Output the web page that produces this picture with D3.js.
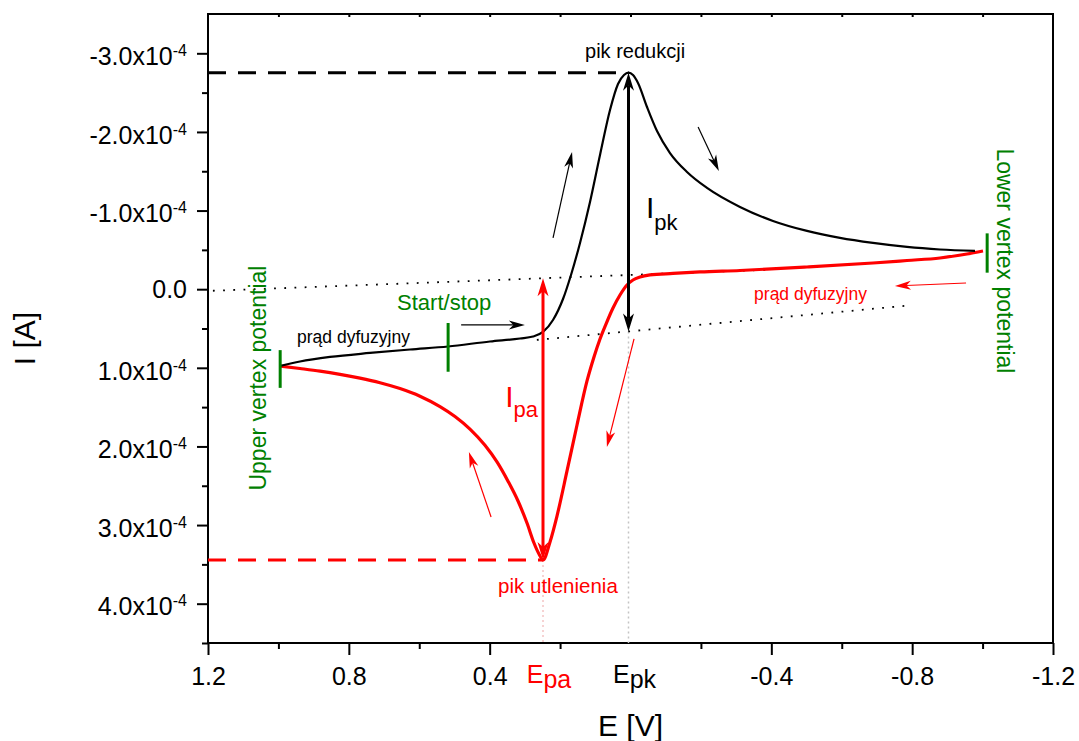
<!DOCTYPE html>
<html><head><meta charset="utf-8">
<script src="https://cdn.jsdelivr.net/npm/d3@7"></script>
<style>
body{margin:0;background:#fff}
svg{display:block}
text{font-family:"Liberation Sans", Arial, Helvetica, sans-serif}
</style>
</head><body>
<svg id="c" width="1079" height="741"></svg>
<script>
// ---------------- DATA ----------------
// Forward scan (black): potential E [V] and current I [x1e-4 A]
const forwardE = [0.9955,0.9387,0.8535,0.7399,0.6263,0.5183,0.3991,0.3138,0.2769,0.2485,0.2201,0.1917,0.1690,0.1434,0.1150,0.0866,0.0582,0.0355,0.0185,0.0057,-0.0071,-0.0213,-0.0469,-0.0753,-0.1122,-0.1605,-0.2173,-0.3110,-0.4047,-0.5013,-0.5950,-0.6887,-0.7853,-0.8791,-0.9785];
const forwardI = [0.977,0.920,0.862,0.811,0.767,0.729,0.665,0.627,0.602,0.544,0.392,0.125,-0.181,-0.588,-1.109,-1.707,-2.279,-2.610,-2.724,-2.754,-2.724,-2.623,-2.317,-2.012,-1.732,-1.491,-1.288,-1.046,-0.868,-0.741,-0.652,-0.588,-0.537,-0.505,-0.486];
// Reverse scan (red)
const reverseE = [-1.0012,-0.9557,-0.8791,-0.7853,-0.6887,-0.5013,-0.3110,-0.1974,-0.1207,-0.0554,-0.0270,-0.0071,0.0099,0.0298,0.0497,0.0696,0.0866,0.1037,0.1235,0.1519,0.1803,0.2088,0.2286,0.2485,0.2599,0.2741,0.2940,0.3195,0.3479,0.3792,0.4133,0.4559,0.4985,0.5411,0.5979,0.6547,0.7115,0.7683,0.8251,0.8819,0.9387,0.9955];
const reverseI = [-0.486,-0.448,-0.397,-0.365,-0.333,-0.282,-0.238,-0.219,-0.200,-0.181,-0.155,-0.117,-0.053,0.074,0.239,0.443,0.633,0.862,1.167,1.727,2.312,2.885,3.215,3.444,3.368,3.228,2.974,2.694,2.442,2.197,1.985,1.779,1.619,1.493,1.361,1.264,1.190,1.132,1.084,1.043,1.009,0.977];

// Peaks: [reduction (pk), oxidation (pa)]
const peakNames = ["pk","pa"];
const peakE = [0.0057, 0.2485];
const peakI = [-2.754, 3.444];
// Baselines (dotted): two end points each
const baseUpperE = [1.186, -0.405];
const baseUpperI = [0.02, -0.25];
const baseLowerE = [0.266, -0.784];
const baseLowerI = [0.645, 0.21];
// Vertex / start markers
const markerNames = ["Upper vertex","Start/stop","Lower vertex"];
const markerE = [0.995, 0.518, -1.013];
const markerI0 = [0.775, 0.43, -0.71];
const markerI1 = [1.255, 1.05, -0.21];
// Direction arrows [E1, I1, E2, I2]
const dirArrowsBlack = [[0.481,0.455,0.300,0.455],[0.220,-0.652,0.166,-1.745],[-0.192,-2.063,-0.251,-1.503]];
const dirArrowsRed = [[-0.953,-0.079,-0.751,-0.041],[-0.010,0.633,0.067,2.007],[0.396,2.897,0.459,2.070]];

// Axes
const xMajorTicks = [1.2, 0.8, 0.4, -0.4, -0.8, -1.2];
const xTickLabels = ["1.2","0.8","0.4","-0.4","-0.8","-1.2"];
const xMinorTicks = [1.0, 0.6, 0.2, -0.2, -0.6, -1.0];
const xTopTicks = [1.0,0.8,0.6,0.4,0.2,0.0,-0.2,-0.4,-0.6,-0.8,-1.0];
const yMajorTicks = [-3,-2,-1,0,1,2,3,4];
const yTickMantissa = ["-3.0x10","-2.0x10","-1.0x10","0.0","1.0x10","2.0x10","3.0x10","4.0x10"];
const yTickExponent = ["-4","-4","-4","","-4","-4","-4","-4"];
const yMinorTicks = [-2.5,-1.5,-0.5,0.5,1.5,2.5,3.5,4.5];

const RED = "#ff0000", GREEN = "#008000";

// ---------------- SCALES ----------------
const svg = d3.select("#c");
const x = d3.scaleLinear().domain([1.2,-1.2]).range([208,1053]);
const y = d3.scaleLinear().domain([-3.5,4.5]).range([14,643]);
const [X0,X1] = x.range(), [Y0,Y1] = y.range();

// ---------------- AXES ----------------
function styleAxis(g){ g.select(".domain").remove(); g.selectAll("line").attr("stroke","#000").attr("stroke-width",2);
  g.selectAll("text").attr("font-size",25).attr("fill","#000").attr("font-family","Liberation Sans, Arial, sans-serif"); }

svg.append("g").attr("transform",`translate(0,${Y1})`)
  .call(d3.axisBottom(x).tickValues(xMajorTicks).tickSize(12).tickSizeOuter(0).tickPadding(12).tickFormat((d,i)=>xTickLabels[i]))
  .call(styleAxis);
svg.append("g").attr("transform",`translate(0,${Y1})`)
  .call(d3.axisBottom(x).tickValues(xMinorTicks).tickSize(6).tickSizeOuter(0).tickFormat(""))
  .call(styleAxis);
svg.append("g").attr("transform",`translate(0,${Y0})`)
  .call(d3.axisBottom(x).tickValues(xTopTicks).tickSize(3).tickSizeOuter(0).tickFormat(""))
  .call(styleAxis);

const gy = svg.append("g").attr("transform",`translate(${X0},0)`)
  .call(d3.axisLeft(y).tickValues(yMajorTicks).tickSize(11).tickSizeOuter(0).tickPadding(10).tickFormat(""))
  .call(styleAxis);
gy.selectAll(".tick").each(function(d,i){
  const t = d3.select(this).select("text");
  t.attr("dy", yTickExponent[i] ? "0.45em" : "0.34em").text(null);
  t.append("tspan").text(yTickMantissa[i]);
  if (yTickExponent[i]) t.append("tspan").attr("font-size",16).attr("dy",-9).text(yTickExponent[i]);
});
svg.append("g").attr("transform",`translate(${X0},0)`)
  .call(d3.axisLeft(y).tickValues(yMinorTicks).tickSize(6).tickSizeOuter(0).tickFormat(""))
  .call(styleAxis);

// frame
svg.append("rect").attr("x",X0).attr("y",Y0).attr("width",X1-X0).attr("height",Y1-Y0)
  .attr("fill","none").attr("stroke","#000").attr("stroke-width",2);

// axis titles
svg.append("text").attr("transform",`translate(35,${(Y0+Y1)/2+10}) rotate(-90)`).attr("text-anchor","middle")
  .attr("font-size",30).text("I [A]");
svg.append("text").attr("x",(X0+X1)/2).attr("y",736).attr("text-anchor","middle").attr("font-size",30).text("E [V]");

// Epa / Epk tick labels
const peakColors = ["#000", RED];
peakE.forEach((e,i)=>{
  const t = svg.append("text").attr("x",x(e)+6).attr("y",683).attr("text-anchor","middle").attr("font-size",25).attr("fill",peakColors[i]);
  t.append("tspan").text("E");
  t.append("tspan").attr("dy",5).text(peakNames[i]);
});

// ---------------- GUIDES ----------------
const plot = svg.append("g");
const lowerAt = e => baseLowerI[0]+(e-baseLowerE[0])*(baseLowerI[1]-baseLowerI[0])/(baseLowerE[1]-baseLowerE[0]);
const upperAt = e => baseUpperI[0]+(e-baseUpperE[0])*(baseUpperI[1]-baseUpperI[0])/(baseUpperE[1]-baseUpperE[0]);
// vertical light dotted guides from peak arrows down to axis
plot.append("line").attr("x1",x(peakE[0])).attr("x2",x(peakE[0])).attr("y1",y(lowerAt(peakE[0]))).attr("y2",Y1)
  .attr("stroke","#c4c4c4").attr("stroke-width",1.5).attr("stroke-dasharray","2,3");
plot.append("line").attr("x1",x(peakE[1])).attr("x2",x(peakE[1])).attr("y1",y(peakI[1])).attr("y2",Y1)
  .attr("stroke","#f3c4c4").attr("stroke-width",1.5).attr("stroke-dasharray","2,3");

// dotted baselines
[[baseUpperE,baseUpperI],[baseLowerE,baseLowerI]].forEach(([es,is])=>{
  plot.append("line").attr("x1",x(es[0])).attr("y1",y(is[0])).attr("x2",x(es[1])).attr("y2",y(is[1]))
    .attr("stroke","#000").attr("stroke-width",1.8).attr("stroke-dasharray","1.8,8.4");
});

// dashed peak-level lines
plot.append("line").attr("x1",X0).attr("x2",x(peakE[0])).attr("y1",y(peakI[0])).attr("y2",y(peakI[0]))
  .attr("stroke","#000").attr("stroke-width",3).attr("stroke-dasharray","18,12");
plot.append("line").attr("x1",X0).attr("x2",x(peakE[1])).attr("y1",y(peakI[1])).attr("y2",y(peakI[1]))
  .attr("stroke",RED).attr("stroke-width",3).attr("stroke-dasharray","18,12");

// ---------------- CURVES ----------------
const line = d3.line().x(d=>x(d[0])).y(d=>y(d[1])).curve(d3.curveMonotoneX);
// order points by increasing screen x for the monotone curve
const redPts = reverseE.map((e,i)=>[e,reverseI[i]]).reverse();
const blackPts = forwardE.map((e,i)=>[e,forwardI[i]]);
plot.append("path").attr("d",line(redPts))
  .attr("fill","none").attr("stroke",RED).attr("stroke-width",3.2).attr("stroke-linejoin","round");
plot.append("path").attr("d",line(blackPts))
  .attr("fill","none").attr("stroke","#000").attr("stroke-width",2.2).attr("stroke-linejoin","round");

// ---------------- ARROWS ----------------
function head(g, px, py, ang, L, W, color){
  const p = [[0,0],[-L,-W/2],[-0.72*L,0],[-L,W/2]].map(([a,b])=>[px + a*Math.cos(ang) - b*Math.sin(ang), py + a*Math.sin(ang) + b*Math.cos(ang)]);
  g.append("path").attr("d","M"+p.map(q=>q.join(",")).join("L")+"Z").attr("fill",color).attr("stroke","none");
}
function arrow(E1,I1,E2,I2,color,w,L,W,both){
  const x1=x(E1), y1=y(I1), x2=x(E2), y2=y(I2);
  const ang = Math.atan2(y2-y1,x2-x1), back = 0.7*L;
  const sx = both ? x1 + back*Math.cos(ang) : x1, sy = both ? y1 + back*Math.sin(ang) : y1;
  plot.append("line").attr("x1",sx).attr("y1",sy).attr("x2",x2-back*Math.cos(ang)).attr("y2",y2-back*Math.sin(ang))
    .attr("stroke",color).attr("stroke-width",w);
  head(plot,x2,y2,ang,L,W,color);
  if (both) head(plot,x1,y1,ang+Math.PI,L,W,color);
}
// Ipk arrow: peak down to lower baseline
arrow(peakE[0],peakI[0],peakE[0],lowerAt(peakE[0]),"#000",3,18,11,true);
// Ipa arrow: upper baseline down to peak
arrow(peakE[1],upperAt(peakE[1]),peakE[1],peakI[1],RED,3,18,11,true);
dirArrowsBlack.forEach(a=>arrow(a[0],a[1],a[2],a[3],"#000",1.2,16,9,false));
dirArrowsRed.forEach(a=>arrow(a[0],a[1],a[2],a[3],RED,1.2,16,9,false));

// vertex / start markers
markerE.forEach((e,i)=>{
  plot.append("line").attr("x1",x(e)).attr("x2",x(e)).attr("y1",y(markerI0[i])).attr("y2",y(markerI1[i]))
    .attr("stroke",GREEN).attr("stroke-width",3);
});

// ---------------- LABELS ----------------
function label(txt,E,I,size,color,anchor){
  return plot.append("text").attr("x",x(E)).attr("y",y(I)).attr("font-size",size).attr("fill",color)
    .attr("text-anchor",anchor||"start").text(txt);
}
label("pik redukcji",-0.013,-2.94,20,"#000","middle");
label("prąd dyfuzyjny",0.947,0.684,17.5,"#000");
label("Start/stop",0.663,0.26,22,GREEN);
label("prąd dyfuzyjny",-0.351,0.137,17.5,RED);
label("pik utlenienia",0.376,3.86,20.5,RED);
// I_pk, I_pa
const ipk = plot.append("text").attr("x",x(-0.044)).attr("y",y(-0.907)).attr("font-size",30).attr("fill","#000");
ipk.append("tspan").text("I"); ipk.append("tspan").attr("font-size",22).attr("dy",12).text("pk");
const ipa = plot.append("text").attr("x",x(0.356)).attr("y",y(1.497)).attr("font-size",30).attr("fill",RED);
ipa.append("tspan").text("I"); ipa.append("tspan").attr("font-size",22).attr("dy",10).text("pa");
// rotated vertex labels
plot.append("text").attr("transform",`translate(266,${y(1.13)}) rotate(-90)`).attr("text-anchor","middle")
  .attr("font-size",23).attr("fill",GREEN).text("Upper vertex potential");
plot.append("text").attr("transform",`translate(997,${y(-0.36)}) rotate(90)`).attr("text-anchor","middle")
  .attr("font-size",23).attr("fill",GREEN).text("Lower vertex potential");
</script>
</body></html>
